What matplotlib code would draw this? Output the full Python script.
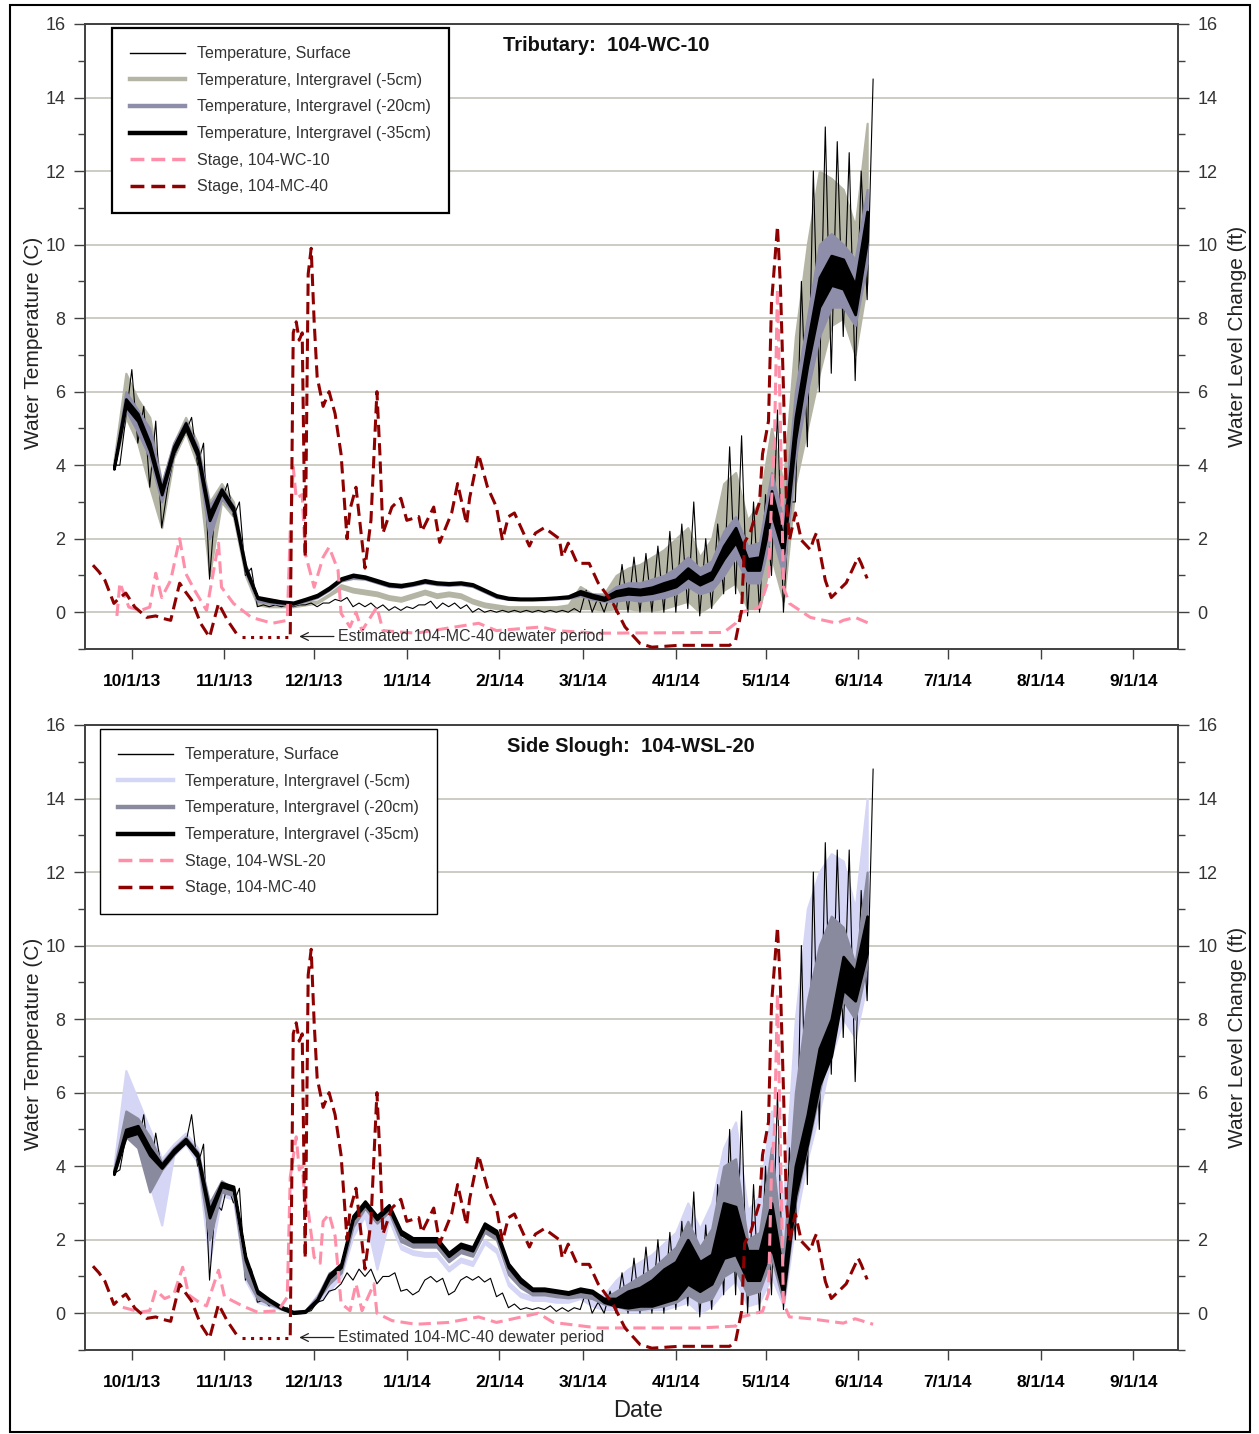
import numpy as np
import pandas as pd
import matplotlib
matplotlib.use('Agg')
import matplotlib.pyplot as plt
import matplotlib.dates as mdates
from matplotlib.lines import Line2D
from matplotlib.patches import Rectangle
from matplotlib.ticker import FuncFormatter, MultipleLocator

plt.rcParams['font.family'] = ['Liberation Sans', 'DejaVu Sans']

# temperature loggers: daily low / high read every 4 days, 9/25/13 - 6/4/14
temp_dates = pd.date_range('2013-09-25', periods=64, freq='4D')

# ---- Tributary 104-WC-10 ----
trib_surf_lo = [4.0, 5.3, 4.6, 3.4, 2.3, 4.2, 4.9, 4.0,
                0.9, 3.0, 2.6, 1.0, 0.15, 0.15, 0.15, 0.15,
                0.2, 0.15, 0.25, 0.3, 0.15, 0.15, 0.1, 0.05,
                0.05, 0.1, 0.2, 0.1, 0.15, 0.1, 0.0, 0.0,
                0.0, 0.0, 0.0, 0.0, 0.0, 0.0, 0.0, 0.0,
                0.0, 0.0, 0.0, 0.0, 0.0, 0.0, 0.0, 0.0,
                0.1, -0.1, 0.1, 0.5, 0.5, -0.1, 0.0, 1.0,
                0.0, 3.0, 4.5, 6.0, 6.5, 7.5, 6.3, 8.5]
trib_surf_hi = [4.0, 6.6, 5.6, 5.2, 3.4, 4.6, 5.3, 4.6,
                3.0, 3.5, 3.0, 1.2, 0.2, 0.2, 0.2, 0.2,
                0.25, 0.25, 0.35, 0.4, 0.25, 0.25, 0.2, 0.15,
                0.15, 0.2, 0.3, 0.25, 0.25, 0.2, 0.1, 0.05,
                0.05, 0.05, 0.05, 0.05, 0.05, 0.05, 0.1, 0.6,
                0.4, 0.5, 1.3, 1.5, 1.6, 1.8, 2.2, 2.4,
                3.0, 2.0, 2.4, 4.5, 4.8, 3.0, 3.2, 5.5,
                3.0, 9.0, 12.0, 13.2, 12.8, 12.5, 12.0, 14.5]
trib_5_lo = [3.9, 5.3, 4.6, 3.4, 2.3, 4.2, 4.9, 4.0,
             1.0, 3.0, 2.6, 1.0, 0.2, 0.15, 0.15, 0.15,
             0.2, 0.25, 0.45, 0.65, 0.55, 0.5, 0.45, 0.35,
             0.3, 0.4, 0.5, 0.4, 0.45, 0.4, 0.25, 0.15,
             0.1, 0.05, 0.05, 0.05, 0.05, 0.05, 0.05, 0.1,
             0.1, 0.05, 0.1, 0.1, 0.05, 0.05, 0.1, 0.2,
             0.3, 0.0, 0.2, 0.6, 0.8, 0.1, 0.1, 1.5,
             0.3, 3.5, 5.0, 6.5, 7.8, 8.0, 7.0, 9.0]
trib_5_hi = [4.1, 6.5, 5.8, 5.3, 3.5, 4.6, 5.3, 4.6,
             3.0, 3.5, 3.0, 1.3, 0.4, 0.3, 0.25, 0.25,
             0.3, 0.3, 0.5, 0.75, 0.65, 0.6, 0.55, 0.45,
             0.4, 0.5, 0.6, 0.5, 0.55, 0.5, 0.35, 0.25,
             0.2, 0.15, 0.15, 0.15, 0.15, 0.15, 0.2, 0.7,
             0.5, 0.5, 1.0, 1.2, 1.3, 1.5, 1.7, 2.0,
             2.3, 1.5, 2.0, 3.5, 3.8, 2.5, 3.0, 5.0,
             3.5, 7.5, 10.0, 12.0, 11.8, 11.5, 10.5, 13.3]
trib_20_lo = [3.9, 5.5, 4.9, 4.2, 3.0, 4.3, 5.0, 4.2,
              2.0, 3.1, 2.7, 1.1, 0.3, 0.25, 0.22, 0.2,
              0.3, 0.4, 0.6, 0.85, 0.92, 0.9, 0.8, 0.7,
              0.68, 0.73, 0.8, 0.75, 0.73, 0.75, 0.7, 0.55,
              0.4, 0.35, 0.33, 0.33, 0.34, 0.36, 0.38, 0.45,
              0.35, 0.3, 0.3, 0.35, 0.3, 0.35, 0.4, 0.5,
              0.7, 0.5, 0.6, 1.0, 1.5, 0.8, 0.8, 2.2,
              1.0, 4.2, 6.0, 7.5, 8.3, 8.3, 7.8, 9.5]
trib_20_hi = [4.0, 6.0, 5.5, 5.0, 3.5, 4.6, 5.2, 4.5,
              2.9, 3.4, 2.9, 1.3, 0.4, 0.35, 0.3, 0.25,
              0.35, 0.45, 0.65, 0.9, 0.97, 0.95, 0.85, 0.75,
              0.72, 0.78, 0.85, 0.8, 0.78, 0.8, 0.75, 0.6,
              0.45, 0.38, 0.36, 0.36, 0.37, 0.39, 0.42, 0.6,
              0.5, 0.45, 0.7, 0.8, 0.8, 0.9, 1.0, 1.2,
              1.5, 1.2, 1.4, 2.2, 2.6, 1.8, 1.9, 3.8,
              2.5, 6.0, 8.0, 10.0, 10.3, 10.0, 9.6, 11.5]
trib_35_lo = [3.9, 5.6, 5.2, 4.4, 3.2, 4.35, 5.0, 4.25,
              2.5, 3.25, 2.75, 1.15, 0.38, 0.3, 0.26, 0.23,
              0.33, 0.43, 0.63, 0.88, 0.98, 0.93, 0.83, 0.73,
              0.7, 0.76, 0.83, 0.78, 0.76, 0.78, 0.73, 0.58,
              0.43, 0.36, 0.35, 0.35, 0.36, 0.38, 0.4, 0.5,
              0.4, 0.33, 0.45, 0.5, 0.48, 0.52, 0.6, 0.7,
              0.95, 0.75, 0.9, 1.45, 1.9, 1.15, 1.15, 2.7,
              1.6, 4.7, 6.7, 8.3, 8.9, 8.8, 8.1, 10.1]
trib_35_hi = [3.95, 5.8, 5.4, 4.6, 3.35, 4.5, 5.15, 4.4,
              2.7, 3.35, 2.85, 1.25, 0.42, 0.36, 0.3, 0.27,
              0.37, 0.48, 0.68, 0.93, 1.03, 0.98, 0.88, 0.78,
              0.75, 0.8, 0.88, 0.82, 0.8, 0.82, 0.77, 0.62,
              0.47, 0.4, 0.38, 0.38, 0.39, 0.41, 0.44, 0.58,
              0.48, 0.4, 0.58, 0.65, 0.62, 0.68, 0.8, 0.9,
              1.2, 0.95, 1.1, 1.8, 2.3, 1.45, 1.5, 3.3,
              2.0, 5.3, 7.3, 9.1, 9.7, 9.6, 8.9, 10.9]

# ---- Side Slough 104-WSL-20 ----
slough_surf_lo = [3.8, 4.8, 4.6, 3.8, 3.9, 4.3, 4.6, 4.0,
                  0.9, 2.8, 3.0, 0.9, 0.3, 0.2, 0.1, 0.0,
                  0.02, 0.3, 0.6, 0.8, 0.9, 1.0, 0.8, 1.0,
                  0.6, 0.5, 0.9, 0.85, 0.5, 0.9, 0.9, 0.85,
                  0.45, 0.15, 0.1, 0.1, 0.1, 0.05, 0.05, 0.1,
                  0.0, 0.0, 0.0, 0.0, 0.0, 0.0, 0.0, 0.1,
                  0.2, -0.1, 0.1, 0.5, 0.5, 0.0, 0.0, 0.5,
                  0.1, 2.0, 3.5, 5.0, 6.5, 7.5, 6.3, 8.5]
slough_surf_hi = [3.9, 5.4, 5.4, 4.9, 4.1, 4.6, 5.4, 4.6,
                  3.0, 3.5, 3.4, 1.2, 0.35, 0.25, 0.15, 0.05,
                  0.07, 0.35, 0.65, 1.1, 1.2, 1.2, 1.0, 1.1,
                  0.65, 0.6, 1.0, 0.95, 0.6, 1.0, 1.0, 0.95,
                  0.55, 0.25, 0.15, 0.15, 0.2, 0.15, 0.15, 0.6,
                  0.3, 0.6, 1.1, 1.5, 1.8, 2.0, 2.2, 2.5,
                  3.3, 2.4, 3.5, 5.0, 5.5, 3.5, 4.0, 6.0,
                  4.5, 10.0, 12.0, 12.8, 12.6, 12.6, 11.5, 14.8]
slough_5_lo = [3.8, 5.0, 4.5, 3.5, 2.4, 4.3, 4.6, 4.1,
               1.4, 3.2, 3.1, 0.9, 0.3, 0.2, 0.1, 0.0,
               0.02, 0.3, 0.6, 1.0, 2.1, 2.65, 1.2, 2.55,
               1.75, 1.6, 1.55, 1.55, 1.15, 1.4, 1.3, 1.9,
               1.65, 0.75, 0.45, 0.35, 0.35, 0.3, 0.3, 0.4,
               0.2, 0.1, 0.1, 0.05, 0.05, 0.1, 0.1, 0.2,
               0.3, 0.0, 0.2, 0.6, 0.9, 0.2, 0.3, 1.0,
               0.2, 2.5, 4.2, 5.5, 7.0, 8.0, 7.5, 9.0]
slough_5_hi = [4.0, 6.6, 5.8, 5.0, 4.2, 4.6, 4.9, 4.5,
               3.0, 3.6, 3.4, 1.2, 0.4, 0.25, 0.15, 0.05,
               0.07, 0.5, 0.9, 1.2, 2.3, 2.75, 2.4, 2.65,
               1.85, 1.7, 1.65, 1.65, 1.25, 1.5, 1.4, 2.0,
               1.75, 0.85, 0.55, 0.45, 0.45, 0.4, 0.4, 0.6,
               0.5, 0.5, 0.9, 1.2, 1.4, 1.6, 1.9, 2.2,
               3.0, 2.3, 3.0, 4.5, 5.2, 2.8, 3.2, 5.5,
               3.0, 8.0, 11.0, 12.0, 12.5, 12.3, 11.0, 14.0]
slough_20_lo = [3.8, 4.8, 4.5, 3.3, 3.9, 4.3, 4.7, 4.2,
                2.0, 3.3, 3.2, 1.0, 0.4, 0.25, 0.12, 0.0,
                0.03, 0.35, 0.8, 1.1, 2.35, 2.85, 2.45, 2.75,
                1.95, 1.8, 1.8, 1.8, 1.4, 1.65, 1.55, 2.2,
                2.0, 1.05, 0.7, 0.5, 0.5, 0.45, 0.42, 0.45,
                0.4, 0.25, 0.2, 0.1, 0.1, 0.15, 0.2, 0.3,
                0.5, 0.3, 0.4, 1.0, 1.2, 0.5, 0.6, 1.5,
                0.3, 3.0, 4.5, 6.0, 7.5, 8.5, 8.0, 9.5]
slough_20_hi = [3.9, 5.5, 5.3, 4.8, 4.1, 4.5, 4.8, 4.4,
                3.0, 3.6, 3.4, 1.3, 0.5, 0.3, 0.17, 0.05,
                0.07, 0.45, 1.1, 1.25, 2.45, 2.95, 2.55, 2.85,
                2.05, 1.9, 1.9, 1.9, 1.5, 1.75, 1.65, 2.3,
                2.1, 1.15, 0.8, 0.6, 0.6, 0.55, 0.5, 0.6,
                0.5, 0.4, 0.6, 0.8, 1.0, 1.2, 1.5, 1.8,
                2.5, 1.8, 2.3, 4.0, 4.2, 2.0, 2.2, 4.5,
                1.5, 6.0, 8.5, 10.0, 10.8, 10.5, 9.5, 12.0]
slough_35_lo = [3.78, 4.8, 4.9, 4.3, 3.95, 4.35, 4.65, 4.25,
                2.6, 3.45, 3.35, 1.45, 0.55, 0.33, 0.13, 0.0,
                0.03, 0.33, 0.95, 1.25, 2.55, 2.95, 2.55, 2.85,
                2.15, 1.95, 1.95, 1.95, 1.55, 1.8, 1.7, 2.35,
                2.15, 1.25, 0.85, 0.62, 0.62, 0.57, 0.52, 0.6,
                0.55, 0.3, 0.2, 0.15, 0.2, 0.2, 0.3, 0.4,
                0.8, 0.6, 0.8, 1.5, 1.6, 0.9, 0.9, 1.8,
                0.5, 3.2, 4.6, 6.2, 7.0, 8.8, 8.5, 9.8]
slough_35_hi = [3.85, 5.0, 5.1, 4.5, 4.05, 4.45, 4.75, 4.35,
                2.8, 3.55, 3.45, 1.55, 0.62, 0.38, 0.18, 0.04,
                0.07, 0.38, 1.05, 1.35, 2.65, 3.05, 2.65, 2.95,
                2.25, 2.05, 2.05, 2.05, 1.65, 1.9, 1.8, 2.45,
                2.25, 1.35, 0.95, 0.68, 0.68, 0.63, 0.58, 0.68,
                0.62, 0.4, 0.4, 0.6, 0.7, 0.9, 1.2, 1.4,
                2.0, 1.4, 1.6, 3.0, 2.9, 1.7, 1.7, 3.0,
                1.0, 4.0, 5.4, 7.2, 8.0, 9.7, 9.3, 10.8]

# ---- stage (water level change, ft) ----
mc40_dates = ['9/18/13', '9/20/13', '9/22/13', '9/25/13', '9/27/13', '9/29/13', '10/2/13',
              '10/6/13', '10/9/13', '10/11/13', '10/14/13', '10/17/13', '10/19/13', '10/21/13',
              '10/24/13', '10/27/13', '10/30/13', '11/2/13', '11/6/13', '11/14/13', '11/23/13',
              '11/24/13', '11/25/13', '11/26/13', '11/27/13', '11/28/13', '11/29/13', '11/30/13',
              '12/1/13', '12/2/13', '12/4/13', '12/6/13', '12/8/13', '12/10/13', '12/12/13',
              '12/13/13', '12/15/13', '12/18/13', '12/20/13', '12/22/13', '12/23/13', '12/24/13',
              '12/27/13', '12/30/13', '1/1/14', '1/5/14', '1/6/14', '1/10/14', '1/12/14',
              '1/16/14', '1/18/14', '1/21/14', '1/22/14', '1/25/14', '1/28/14', '1/31/14',
              '2/2/14', '2/4/14', '2/6/14', '2/11/14', '2/13/14', '2/16/14', '2/21/14',
              '2/22/14', '2/24/14', '2/27/14', '3/3/14', '3/6/14', '3/11/14', '3/15/14',
              '3/20/14', '3/24/14', '4/2/14', '4/19/14', '4/21/14', '4/23/14', '4/24/14',
              '4/26/14', '4/29/14', '4/30/14', '5/2/14', '5/3/14', '5/5/14', '5/6/14',
              '5/7/14', '5/8/14', '5/9/14', '5/11/14', '5/13/14', '5/16/14', '5/17/14',
              '5/18/14', '5/21/14', '5/23/14', '5/28/14', '6/1/14', '6/2/14', '6/4/14']
mc40_ft = [1.28, 1.1, 0.87, 0.24, 0.4, 0.52, 0.14,
           -0.14, -0.1, -0.16, -0.22, 0.79, 0.55, 0.33,
           -0.3, -0.68, 0.24, -0.22, -0.7, np.nan, -0.6,
           7.6, 7.9, 7.4, 7.6, 1.5, 9.2, 9.9,
           7.9, 6.4, 5.6, 6.0, 5.4, 4.3, 2.0,
           2.8, 3.4, 1.2, 2.5, 6.0, 4.3, 2.15,
           2.86, 3.1, 2.5, 2.6, 2.2, 2.86, 1.9,
           2.7, 3.5, 2.4, 3.1, 4.3, 3.4, 2.86,
           1.96, 2.6, 2.7, 1.8, 2.15, 2.3, 2.0,
           1.5, 1.88, 1.33, 1.33, 0.8, 0.24, -0.4,
           -0.85, -0.95, -0.9, -0.9, -0.76, 0.05, 1.9,
           2.2, 3.0, 4.3, 5.2, 8.4, 10.5, 8.85,
           6.1, 3.0, 1.96, 2.7, 1.96, 1.7, 1.96,
           2.15, 0.87, 0.4, 0.8, 1.5, 1.33, 0.92]
dewater_dates = ['11/7/13', '11/23/13']
dewater_ft = [-0.68, -0.68]

wc10_dates = ['9/26/13', '9/27/13', '9/30/13', '10/4/13', '10/7/13', '10/9/13', '10/11/13',
              '10/14/13', '10/17/13', '10/19/13', '10/22/13', '10/26/13', '10/30/13', '10/31/13',
              '11/4/13', '11/10/13', '11/17/13', '11/22/13', '11/23/13', '11/24/13', '11/25/13',
              '11/27/13', '11/28/13', '12/1/13', '12/4/13', '12/6/13', '12/9/13', '12/10/13',
              '12/13/13', '12/15/13', '12/17/13', '12/22/13', '12/24/13', '1/4/14', '1/25/14',
              '1/31/14', '2/15/14', '2/20/14', '3/6/14', '4/17/14', '4/21/14', '4/23/14',
              '4/29/14', '5/2/14', '5/3/14', '5/4/14', '5/5/14', '5/6/14', '5/7/14',
              '5/9/14', '5/16/14', '5/25/14', '5/27/14', '5/31/14', '6/6/14']
wc10_ft = [-0.1, 0.8, 0.14, 0.05, 0.14, 1.06, 0.4,
           0.87, 2.0, 1.06, 0.6, 0.05, 1.88, 0.68,
           0.24, -0.14, -0.3, -0.22, 2.2, 3.95, 3.1,
           3.2, 1.6, 0.68, 1.5, 1.77, 1.14, -0.03,
           -0.4, 0.0, -0.5, 0.14, -0.5, -0.57, -0.3,
           -0.5, -0.4, -0.5, -0.57, -0.55, -0.3, 0.0,
           0.14, 0.87, 3.0, 4.7, 8.8, 5.0, 0.68,
           0.24, -0.14, -0.3, -0.22, -0.14, -0.35]

wsl20_dates = ['9/28/13', '10/4/13', '10/7/13', '10/9/13', '10/12/13', '10/15/13', '10/18/13',
               '10/20/13', '10/24/13', '10/26/13', '10/30/13', '11/1/13', '11/7/13', '11/12/13',
               '11/19/13', '11/22/13', '11/23/13', '11/25/13', '11/26/13', '11/27/13', '11/28/13',
               '11/29/13', '12/1/13', '12/3/13', '12/4/13', '12/6/13', '12/8/13', '12/10/13',
               '12/13/13', '12/15/13', '12/17/13', '12/21/13', '12/22/13', '12/27/13', '1/4/14',
               '1/15/14', '1/25/14', '1/31/14', '2/14/14', '2/19/14', '3/6/14', '4/9/14',
               '4/21/14', '4/23/14', '4/30/14', '5/2/14', '5/3/14', '5/4/14', '5/5/14',
               '5/7/14', '5/9/14', '5/16/14', '5/27/14', '5/31/14', '6/6/14']
wsl20_ft = [0.16, 0.03, 0.07, 0.63, 0.4, 0.5, 1.25,
            0.5, 0.27, 0.2, 1.17, 0.45, 0.2, 0.03,
            0.07, 0.44, 3.7, 4.8, 3.9, 4.0, 3.0,
            2.8, 1.52, 1.36, 2.5, 2.7, 2.1, 0.27,
            0.07, 0.8, 0.07, 0.8, 0.0, -0.2, -0.3,
            -0.25, -0.1, -0.25, 0.0, -0.25, -0.4, -0.4,
            -0.35, -0.1, 0.05, 0.54, 3.9, 5.0, 8.7,
            0.27, -0.1, -0.15, -0.27, -0.15, -0.3]

PINK = '#ff8fa8'
DARKRED = '#8f0000'
DASH = (0, (4, 2))


def to_num(dates):
    return mdates.date2num(pd.to_datetime(dates, format='%m/%d/%y'))


def date_label(x, pos):
    d = mdates.num2date(x)
    return '%d/%d/%02d' % (d.month, d.day, d.year % 100)


def style_axis(a):
    a.set_ylim(-1, 16)
    a.yaxis.set_major_locator(MultipleLocator(2))
    a.yaxis.set_minor_locator(MultipleLocator(1))
    a.tick_params(axis='y', which='major', direction='out', length=8, width=1,
                  pad=6, labelsize=13, color='#404040', labelcolor='#333333')
    a.tick_params(axis='y', which='minor', direction='out', length=5, width=1, color='#404040')
    for sp in a.spines.values():
        sp.set_color('#404040')
        sp.set_linewidth(1.2)


def draw_panel(ax, temps, c5, c20, site_dates, site_ft, site_name, title, title_x, leg_x, frame_lw):
    t = mdates.date2num(temp_dates)
    surf_lo, surf_hi, lo5, hi5, lo20, hi20, lo35, hi35 = temps
    ax.fill_between(t, lo5, hi5, color=c5, lw=1.6, zorder=2)
    # surface logger drawn as a zig-zag between daily low and high
    zx = np.column_stack([t, t + 2]).ravel()
    zy = np.column_stack([surf_lo, surf_hi]).ravel()
    ax.plot(zx, zy, color='black', lw=0.8, zorder=3)
    ax.fill_between(t, lo20, hi20, color=c20, lw=1.6, zorder=4)
    ax.fill_between(t, lo35, hi35, color='black', lw=2.0, zorder=5)

    ax.set_xlim(mdates.date2num(pd.Timestamp('2013-09-15 08:00')),
                mdates.date2num(pd.Timestamp('2014-09-16')))
    ax.xaxis.set_major_locator(mdates.MonthLocator(bymonthday=1))
    ax.xaxis.set_major_formatter(FuncFormatter(date_label))
    ax.tick_params(axis='x', direction='out', length=7, width=1, pad=11,
                   labelsize=12.5, color='#404040')
    style_axis(ax)
    ax.grid(axis='y', which='major', color='#c8c8c0', lw=1.3)
    ax.set_axisbelow(True)
    for lbl in ax.get_xticklabels():
        lbl.set_fontweight('bold')
    ax.set_ylabel('Water Temperature (C)', fontsize=15, color='#222222')
    ax.yaxis.set_label_coords(-0.038, 0.49)

    ax2 = ax.twinx()
    style_axis(ax2)
    ax2.plot(to_num(site_dates), site_ft, color=PINK, lw=2.2, ls=DASH, zorder=3)
    ax2.plot(to_num(mc40_dates), mc40_ft, color=DARKRED, lw=2.2, ls=DASH, zorder=4)
    ax2.plot(to_num(dewater_dates), dewater_ft, color=DARKRED, lw=2.2, ls=(0, (1, 1.8)), zorder=4)
    ax2.set_ylabel('Water Level Change (ft)', fontsize=15, color='#222222')
    ax2.yaxis.set_label_coords(1.0457, 0.5)

    ax2.annotate('Estimated 104-MC-40 dewater period',
                 xy=(to_num(['11/26/13'])[0], -0.66), xytext=(to_num(['12/9/13'])[0], -0.66),
                 ha='left', va='center', fontsize=11.5, color='#333333', zorder=6,
                 arrowprops=dict(arrowstyle='->', color='#222222', lw=0.9,
                                 mutation_scale=14, shrinkA=1, shrinkB=0))

    ax2.text(title_x, 0.965, title, transform=ax2.transAxes, ha='center', va='center',
             fontsize=14.5, fontweight='bold', color='#111111')

    handles = [Line2D([], [], color='black', lw=1.0),
               Line2D([], [], color=c5, lw=3.2),
               Line2D([], [], color=c20, lw=3.2),
               Line2D([], [], color='black', lw=3.2),
               Line2D([], [], color=PINK, lw=2.5, ls=DASH),
               Line2D([], [], color=DARKRED, lw=2.5, ls=DASH)]
    labels = ['Temperature, Surface', 'Temperature, Intergravel (-5cm)',
              'Temperature, Intergravel (-20cm)', 'Temperature, Intergravel (-35cm)',
              'Stage, ' + site_name, 'Stage, 104-MC-40']
    leg = ax2.legend(handles, labels, loc='upper left', bbox_to_anchor=(leg_x, 0.994),
                     borderaxespad=0, fontsize=11.5, handlelength=3.4, handletextpad=0.75,
                     labelspacing=0.73, borderpad=1.15, fancybox=False, framealpha=1,
                     edgecolor='black')
    leg.get_frame().set_linewidth(frame_lw)
    for txt in leg.get_texts():
        txt.set_color('#333333')
    leg.set_zorder(10)


fig = plt.figure(figsize=(12.59, 14.34), dpi=100)
fig.patches.append(Rectangle((10 / 1259, 2 / 1434), 1240 / 1259, 1427 / 1434,
                             transform=fig.transFigure, fill=False, ec='black', lw=1.5))

ax_top = fig.add_axes([85 / 1259, 1 - 649 / 1434, 1093 / 1259, 625 / 1434])
ax_bot = fig.add_axes([85 / 1259, 1 - 1350 / 1434, 1093 / 1259, 625 / 1434])

draw_panel(ax_top,
           (trib_surf_lo, trib_surf_hi, trib_5_lo, trib_5_hi, trib_20_lo, trib_20_hi,
            trib_35_lo, trib_35_hi),
           '#b5b5a5', '#8e8eaa', wc10_dates, wc10_ft, '104-WC-10',
           'Tributary:  104-WC-10', 0.477, 0.0247, 1.6)
draw_panel(ax_bot,
           (slough_surf_lo, slough_surf_hi, slough_5_lo, slough_5_hi, slough_20_lo, slough_20_hi,
            slough_35_lo, slough_35_hi),
           '#d5d5f5', '#8a8a9e', wsl20_dates, wsl20_ft, '104-WSL-20',
           'Side Slough:  104-WSL-20', 0.499, 0.0137, 1.0)

fig.text(638 / 1259, 1 - 1411 / 1434, 'Date', ha='center', va='center', fontsize=17, color='#222222')

fig.savefig('out.png', dpi=100)
